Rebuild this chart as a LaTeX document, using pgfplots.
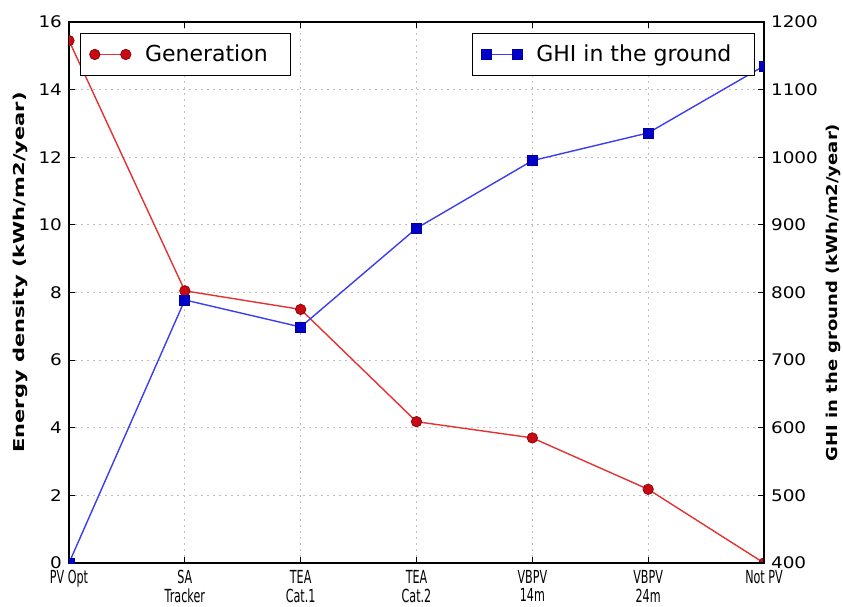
\documentclass[border=0pt]{standalone}
\usepackage{fontspec}
\setmainfont{DejaVu Sans}
\usepackage{pgfplots}
\pgfplotsset{compat=1.18}
\usetikzlibrary{calc}
\definecolor{genline}{RGB}{228,50,50}
\definecolor{genmark}{RGB}{200,10,20}
\definecolor{ghiline}{RGB}{60,60,240}
\definecolor{ghimark}{RGB}{0,0,200}
\newcommand\xl[1]{\scalebox{0.62}[1]{\begin{tabular}{@{}c@{}}#1\end{tabular}}}
\pgfplotsset{
  common/.style={
    scale only axis, width=347.5pt, height=270.5pt,
    xmin=0, xmax=6,
    tick align=inside, major tick length=3pt,
    axis line style={line width=0.8pt},
    every tick/.style={black, line width=0.6pt},
    clip marker paths=true,
    /pgf/number format/assume math mode=true,
    /pgf/number format/1000 sep={},
    yticklabel style={font=\fontsize{8}{9}\selectfont},
    yticklabel={\scalebox{1.15}[1]{\pgfmathprintnumber{\tick}}},
    legend image code/.code={\draw[mark repeat=1,##1] plot coordinates {(0pt,0pt) (15.5pt,0pt)};},
    legend style={draw=black, line width=0.6pt, font=\fontsize{11}{13}\selectfont,
      inner xsep=4.5pt, inner ysep=3.5pt, legend cell align=left,
      nodes={inner xsep=7pt}},
  }
}
\begin{document}
\begin{tikzpicture}
\begin{axis}[common, name=ax,
  ymin=0, ymax=16, ytick={0,2,...,16},
  xtick={0,...,6},
  xticklabels={\xl{PV Opt}, \xl{SA\\Tracker}, \xl{TEA\\Cat.1}, \xl{TEA\\Cat.2}, \xl{VBPV\\14m}, \xl{VBPV\\24m}, \xl{Not PV}},
  xticklabel style={font=\fontsize{9}{9.3}\selectfont, anchor=north, yshift=0pt},
  ytick pos=left,
  grid=major,
  grid style={gray!50, dash pattern=on 1pt off 2pt, line width=0.5pt},
  ylabel={\fontsize{7.5}{9}\selectfont\bfseries\scalebox{1.4}[1]{Energy density (kWh/m2/year)}},
  ylabel style={at={(axis description cs:-0.0705,0.537)}, anchor=center},
  legend style={at={(axis description cs:0,1)}, anchor=north west, xshift=5.5pt, yshift=-5.5pt},
]
\addplot[color=genline, line width=0.7pt, mark=*, mark size=2.6pt,
  mark options={fill=genmark, draw=genmark!70!black, line width=0.4pt}]
  coordinates {(0,15.45) (1,8.05) (2,7.5) (3,4.18) (4,3.7) (5,2.18) (6,0)};
\addlegendentry{Generation}
\end{axis}
\begin{axis}[common,
  ymin=400, ymax=1200, ytick={400,500,...,1200},
  axis x line=none, axis y line*=right,
  ylabel={\fontsize{7.5}{9}\selectfont\bfseries\scalebox{1.2}[1]{GHI in the ground (kWh/m2/year)}},
  ylabel style={at={(axis description cs:1.0993,0.5)}, anchor=center},
  legend style={at={(axis description cs:1,1)}, anchor=north east, xshift=-4.5pt, yshift=-5.5pt},
]
\addplot[color=ghiline, line width=0.7pt, mark=square*, mark size=2.5pt,
  mark options={fill=ghimark, draw=ghimark!80!black, line width=0.4pt}]
  coordinates {(0,400) (1,789) (2,749) (3,895) (4,995) (5,1036) (6,1135)};
\addlegendentry{GHI in the ground}
\end{axis}
\pgfresetboundingbox
\path[use as bounding box] ($(ax.south west)+(-34.5pt,-21.5pt)$) rectangle ($(ax.north east)+(39.5pt,11pt)$);
\end{tikzpicture}
\end{document}
